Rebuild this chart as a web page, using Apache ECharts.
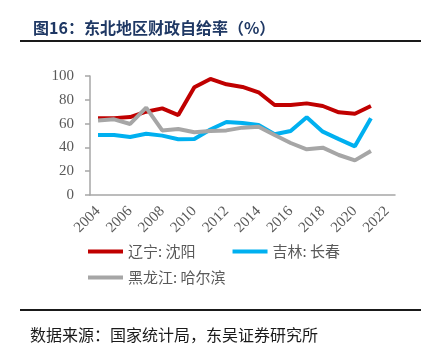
<!DOCTYPE html>
<html>
<head>
    <meta charset="utf-8">
    <title>东北地区财政自给率</title>
    <script type="text/javascript" src="https://cdn.jsdelivr.net/npm/echarts@6/dist/echarts.min.js"></script>
    <style>
        html, body { margin: 0; padding: 0; background: #fff; }
    </style>
</head>
<body>
    <div id="chart" style="width: 431px;height:352px;"></div>
</body>
<script type="text/javascript">
    // 年份（2022 只有刻度，没有数据）
    var years = ['2004', '2005', '2006', '2007', '2008', '2009', '2010', '2011', '2012', '2013',
                 '2014', '2015', '2016', '2017', '2018', '2019', '2020', '2021', '2022'];
    var shenyang = [64.4, 64.6, 65.5, 70, 72.8, 67.2, 90.5, 97.5, 93, 90.8, 86.3, 75.6, 75.6, 77, 74.8, 69.5, 68.3, 74.8];
    var changchun = [50.4, 50.4, 48.7, 51.5, 49.9, 46.8, 47, 55, 61.3, 60.5, 58.8, 51, 53.8, 65.3, 53.2, 47, 40.9, 64.4];
    var haerbin = [62.7, 63.6, 59.7, 73.4, 54.3, 55.5, 52.7, 53.8, 54.3, 56.6, 57.4, 50.4, 43.7, 38.4, 39.8, 33.6, 29.1, 37];
    var seriesNames = ['辽宁: 沈阳', '吉林: 长春', '黑龙江: 哈尔滨'];

    var labelColor = '#595959';
    var axisColor = '#A6A6A6';

    var chart = echarts.init(document.getElementById("chart"));
    chart.setOption({
        animation: false,
        title: {
            text: '图16：东北地区财政自给率（%）',
            left: 28,
            top: 15,
            textStyle: {
                fontFamily: 'Noto Sans CJK SC',
                fontSize: 16,
                fontWeight: 'bold',
                color: '#1F3864'
            }
        },
        legend: [{
            data: [seriesNames[0], seriesNames[1]],
            left: 83,
            top: 239,
            icon: 'rect',
            itemWidth: 35,
            itemHeight: 4,
            itemGap: 37,
            textStyle: { fontFamily: 'Noto Sans CJK SC', fontSize: 15, color: labelColor }
        }, {
            data: [seriesNames[2]],
            left: 83,
            top: 265,
            icon: 'rect',
            itemWidth: 35,
            itemHeight: 4,
            textStyle: { fontFamily: 'Noto Sans CJK SC', fontSize: 15, color: labelColor }
        }],
        grid: {
            left: 90,
            right: 36,
            top: 76,
            bottom: 157
        },
        xAxis: {
            type: 'category',
            data: years,
            boundaryGap: true,
            axisLine: { lineStyle: { color: axisColor, width: 1.5 } },
            axisTick: { interval: 1, length: 5, lineStyle: { color: axisColor, width: 1.5 } },
            axisLabel: {
                interval: 1,
                rotate: 45,
                margin: 14,
                fontFamily: 'Liberation Serif',
                fontSize: 15,
                color: labelColor
            }
        },
        yAxis: {
            type: 'value',
            min: 0,
            max: 100,
            interval: 20,
            splitLine: { show: false },
            axisLine: { show: true, lineStyle: { color: axisColor, width: 1.5 } },
            axisTick: { show: true, length: 5, lineStyle: { color: axisColor, width: 1.5 } },
            axisLabel: {
                margin: 16,
                fontFamily: 'Liberation Serif',
                fontSize: 15,
                color: labelColor
            }
        },
        series: [{
            name: seriesNames[0],
            type: 'line',
            data: shenyang,
            showSymbol: false,
            color: '#C00000',
            lineStyle: { width: 4 }
        }, {
            name: seriesNames[1],
            type: 'line',
            data: changchun,
            showSymbol: false,
            color: '#00B0F0',
            lineStyle: { width: 4 }
        }, {
            name: seriesNames[2],
            type: 'line',
            data: haerbin,
            showSymbol: false,
            color: '#A6A6A6',
            lineStyle: { width: 4 }
        }],
        graphic: [{
            type: 'line',
            shape: { x1: 20, y1: 41, x2: 421, y2: 41 },
            style: { stroke: '#1a1a1a', lineWidth: 2 }
        }, {
            type: 'line',
            shape: { x1: 20, y1: 310, x2: 421, y2: 310 },
            style: { stroke: '#1a1a1a', lineWidth: 2 }
        }, {
            type: 'text',
            left: 30,
            top: 327,
            style: {
                text: '数据来源：国家统计局，东吴证券研究所',
                fontFamily: 'Noto Sans CJK SC',
                fontSize: 16,
                fill: '#1a1a1a'
            }
        }]
    });
</script>
</html>
